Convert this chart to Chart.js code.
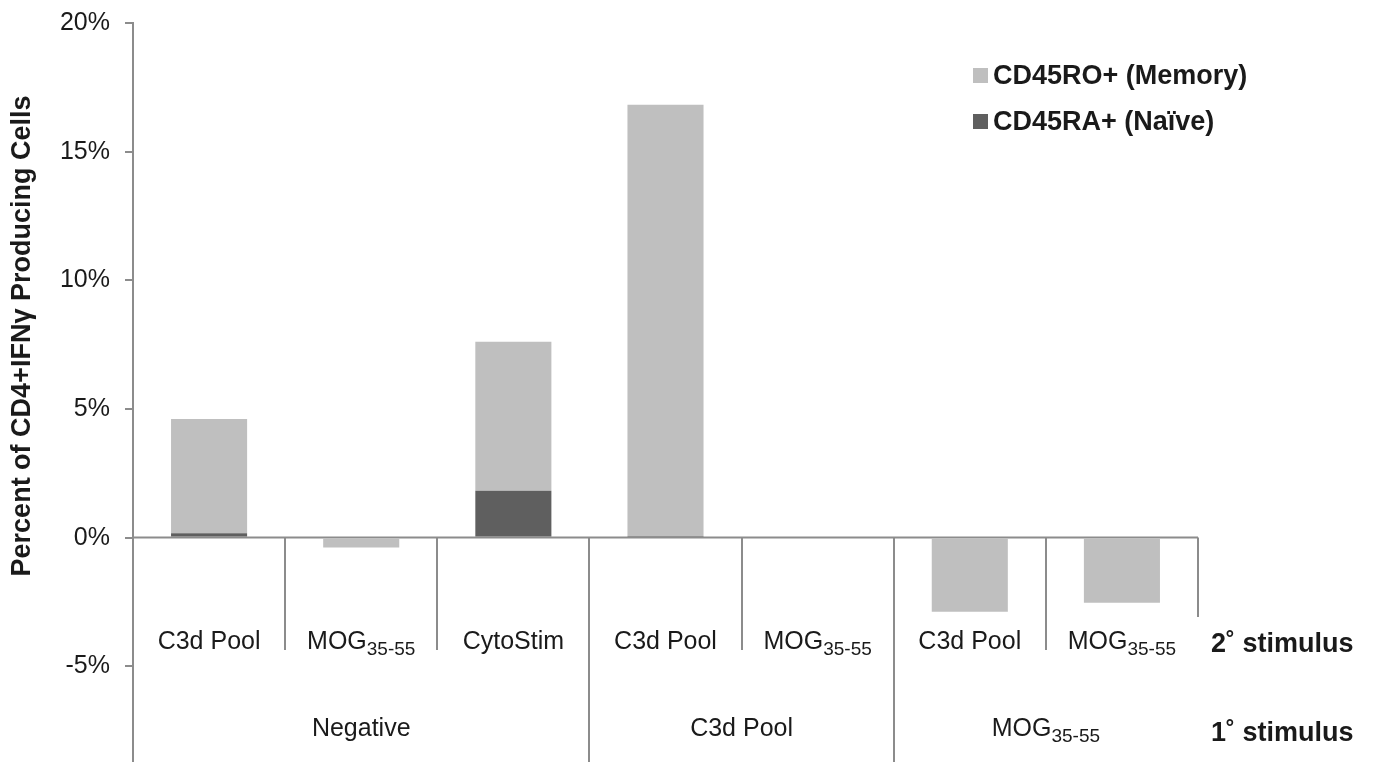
<!DOCTYPE html>
<html>
<head>
<meta charset="utf-8">
<title>CD4+IFNγ producing cells</title>
<script src="https://cdn.jsdelivr.net/npm/chart.js@4.4.1/dist/chart.umd.min.js"></script>
<style>
  html, body { margin: 0; padding: 0; background: #fff; overflow: hidden; }
  canvas { display: block; }
</style>
</head>
<body>
<canvas id="chart" width="1374" height="762"></canvas>
<script>
// 2° stimulus (one per bar), subscripts kept apart so they can be drawn small
const secondaryLabels = ["C3d Pool", "MOG", "CytoStim", "C3d Pool", "MOG", "C3d Pool", "MOG"];
const secondarySubs = ["", "35-55", "", "", "35-55", "", "35-55"];
// 1° stimulus groups and how many bars each one covers
const primaryLabels = ["Negative", "C3d Pool", "MOG"];
const primarySubs = ["", "", "35-55"];
const primarySpans = [3, 2, 2];

// percent of CD4+IFNγ producing cells
const naiveValues = [0.17, 0, 1.82, 0.06, 0, 0, 0];
const memoryValues = [4.44, -0.38, 5.79, 16.76, 0, -2.88, -2.53];

const seriesNames = ["CD45RO+ (Memory)", "CD45RA+ (Naïve)"];
const seriesColors = ["#bfbfbf", "#5f5f5f"];

const yTitle = "Percent of CD4+IFNγ Producing Cells";
const rowTitles = ["2˚ stimulus", "1˚ stimulus"];
const Y_MIN = -8.72;
const Y_MAX = 20;
const Y_STEP = 5;

const FONT = "'Liberation Sans', Arial, sans-serif";
const AXIS = "#8c8c8c";
const TEXT = "#1a1a1a";

function el(id) {
  return document.getElementById(id);
}

function drawSubLabel(ctx, main, sub, cx, baseline, size) {
  const subSize = Math.round(size * 0.74);
  ctx.font = `${size}px ${FONT}`;
  const wMain = ctx.measureText(main).width;
  ctx.font = `${subSize}px ${FONT}`;
  const wSub = sub ? ctx.measureText(sub).width : 0;
  const x0 = cx - (wMain + wSub) / 2;
  ctx.textAlign = "left";
  ctx.textBaseline = "alphabetic";
  ctx.font = `${size}px ${FONT}`;
  ctx.fillText(main, x0, baseline);
  if (sub) {
    ctx.font = `${subSize}px ${FONT}`;
    ctx.fillText(sub, x0 + wMain, baseline + 6);
  }
}

const decor = {
  id: "decor",
  beforeDatasetsDraw(chart) {
    const { ctx, chartArea, scales } = chart;
    const y0 = scales.y.getPixelForValue(0);
    ctx.save();
    ctx.strokeStyle = AXIS;
    ctx.lineWidth = 2;
    ctx.beginPath();
    ctx.moveTo(chartArea.left, y0);
    ctx.lineTo(chartArea.right, y0);
    ctx.stroke();
    ctx.restore();
  },
  afterDraw(chart) {
    const { ctx, chartArea, scales } = chart;
    const x = scales.x;
    const y0 = scales.y.getPixelForValue(0);
    const n = secondaryLabels.length;
    const half = (x.getPixelForValue(1) - x.getPixelForValue(0)) / 2;
    const edge = (b) => x.getPixelForValue(0) - half + b * half * 2;

    // which boundaries close a 1° group
    const groupEdges = [];
    let acc = 0;
    primarySpans.forEach((s) => { acc += s; groupEdges.push(acc); });

    ctx.save();
    ctx.strokeStyle = AXIS;
    ctx.lineWidth = 2;
    for (let b = 1; b <= n; b++) {
      let bottom = 650;
      if (b === n) bottom = 617;
      else if (groupEdges.includes(b)) bottom = chartArea.bottom;
      const xb = Math.round(edge(b));
      ctx.beginPath();
      ctx.moveTo(xb, y0);
      ctx.lineTo(xb, bottom);
      ctx.stroke();
    }

    ctx.fillStyle = TEXT;
    secondaryLabels.forEach((lab, i) => {
      drawSubLabel(ctx, lab, secondarySubs[i], x.getPixelForValue(i), 649, 25);
    });
    let start = 0;
    primaryLabels.forEach((lab, g) => {
      const cx = (edge(start) + edge(start + primarySpans[g])) / 2;
      drawSubLabel(ctx, lab, primarySubs[g], cx, 736, 25);
      start += primarySpans[g];
    });

    ctx.font = `bold 27px ${FONT}`;
    ctx.textAlign = "left";
    ctx.textBaseline = "alphabetic";
    ctx.fillText(rowTitles[0], 1211, 652);
    ctx.fillText(rowTitles[1], 1211, 741);

    // legend
    const legendY = [75.5, 121.5];
    seriesNames.forEach((name, i) => {
      ctx.fillStyle = seriesColors[i];
      ctx.fillRect(973, legendY[i] - 7.5, 15, 15);
      ctx.fillStyle = TEXT;
      ctx.textBaseline = "middle";
      ctx.fillText(name, 993, legendY[i] + 1);
    });

    // y title
    ctx.translate(23, 336);
    ctx.rotate(-Math.PI / 2);
    ctx.textAlign = "center";
    ctx.textBaseline = "middle";
    ctx.fillText(yTitle, 0, 0);
    ctx.restore();
  },
};

function initChart() {
  Chart.defaults.font.family = FONT;
  new Chart(el("chart").getContext("2d"), {
    type: "bar",
    data: {
      labels: secondaryLabels.map((l, i) => l + secondarySubs[i]),
      datasets: [
        { label: seriesNames[1], data: naiveValues, backgroundColor: seriesColors[1] },
        { label: seriesNames[0], data: memoryValues, backgroundColor: seriesColors[0] },
      ],
    },
    options: {
      responsive: false,
      animation: false,
      devicePixelRatio: 1,
      layout: { padding: { top: 23, right: 176, bottom: 0, left: 0 } },
      datasets: { bar: { barPercentage: 0.5, categoryPercentage: 1 } },
      plugins: { legend: { display: false }, tooltip: { enabled: false } },
      scales: {
        x: { stacked: true, display: false },
        y: {
          stacked: true,
          min: Y_MIN,
          max: Y_MAX,
          ticks: {
            stepSize: Y_STEP,
            includeBounds: false,
            padding: 15,
            color: TEXT,
            font: { size: 25 },
            callback: (v) => v + "%",
          },
          grid: { drawOnChartArea: false, tickLength: 8, color: AXIS, lineWidth: 2 },
          border: { color: AXIS, width: 2 },
          afterFit(scale) {
            scale.width = 133;
            scale.paddingTop = 0;
            scale.paddingBottom = 0;
          },
        },
      },
    },
    plugins: [decor],
  });
}

document.addEventListener("DOMContentLoaded", initChart);
</script>
</body>
</html>
